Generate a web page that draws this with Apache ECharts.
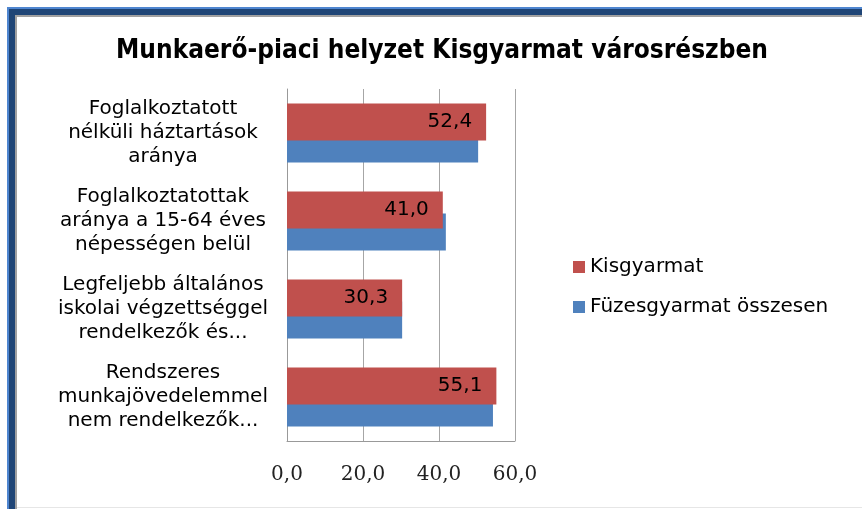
<!DOCTYPE html>
<html>
<head>
<meta charset="utf-8">
<script src="https://cdn.jsdelivr.net/npm/echarts@6/dist/echarts.min.js"></script>
<style>
  html, body { margin: 0; padding: 0; background: #fff; }
  #chart { width: 862px; height: 509px; }
</style>
</head>
<body>
<div id="chart"></div>
<script>
  // kategóriák (sortörésekkel, ahogy az eredeti ábrán)
  const categories = [
    'Foglalkoztatott\nnélküli háztartások\naránya',
    'Foglalkoztatottak\naránya a 15-64 éves\nnépességen belül',
    'Legfeljebb általános\niskolai végzettséggel\nrendelkezők és...',
    'Rendszeres\nmunkajövedelemmel\nnem rendelkezők...'
  ]
  const kisgyarmat = [52.4, 41.0, 30.3, 55.1]
  const fuzesgyarmat = [50.3, 41.8, 30.3, 54.2]
  const xTicks = [0, 20, 40, 60]

  const fmt = v => Number(v).toFixed(1).replace('.', ',')

  const myChart = echarts.init(document.getElementById('chart'))
  const option = {
    animation: false,
    title: {
      text: 'Munkaerő-piaci helyzet Kisgyarmat városrészben',
      left: 437,
      textAlign: 'center',
      top: 33,
      textStyle: {
        fontFamily: 'DejaVu Sans Condensed, DejaVu Sans',
        fontWeight: 'bold',
        fontSize: 26,
        color: '#000'
      }
    },
    legend: {
      orient: 'vertical',
      left: 573,
      top: 255,
      padding: 0,
      itemWidth: 12,
      itemHeight: 12,
      itemGap: 16,
      icon: 'rect',
      textStyle: {
        fontFamily: 'DejaVu Sans',
        fontSize: 20,
        lineHeight: 24,
        color: '#000'
      },
      data: ['Kisgyarmat', 'Füzesgyarmat összesen']
    },
    grid: { left: 287, right: 347, top: 89, bottom: 68 },
    xAxis: {
      type: 'value',
      min: xTicks[0],
      max: xTicks[xTicks.length - 1],
      interval: 20,
      axisLine: { show: true, lineStyle: { color: '#999' } },
      axisTick: { show: false },
      splitLine: { show: true, lineStyle: { color: '#a6a6a6', width: 1 } },
      axisLabel: {
        margin: 24,
        fontFamily: 'DejaVu Serif',
        fontSize: 20,
        color: '#222',
        formatter: v => fmt(v)
      }
    },
    yAxis: {
      type: 'category',
      inverse: true,
      data: categories,
      axisLine: { show: true, lineStyle: { color: '#999' } },
      axisTick: { show: false },
      axisLabel: {
        margin: 124,
        align: 'center',
        fontFamily: 'DejaVu Sans',
        fontSize: 20,
        lineHeight: 24,
        color: '#000'
      }
    },
    series: [
      {
        name: 'Kisgyarmat',
        type: 'bar',
        data: kisgyarmat,
        barWidth: 37,
        barGap: '-40%',
        itemStyle: { color: '#c0504d' },
        z: 3,
        label: {
          show: true,
          position: 'insideRight',
          distance: 14,
          fontFamily: 'DejaVu Sans',
          fontSize: 20,
          color: '#000',
          formatter: p => fmt(p.value)
        }
      },
      {
        name: 'Füzesgyarmat összesen',
        type: 'bar',
        data: fuzesgyarmat,
        barWidth: 37,
        barGap: '-40%',
        itemStyle: { color: '#4f81bd' },
        z: 2
      }
    ],
    graphic: [
      // Excel-szerű keret bal és felső oldalon
      { type: 'rect', shape: { x: 7, y: 7, width: 855, height: 2 }, style: { fill: '#4f86d0' }, silent: true },
      { type: 'rect', shape: { x: 7, y: 7, width: 2, height: 502 }, style: { fill: '#4f86d0' }, silent: true },
      { type: 'rect', shape: { x: 9, y: 9, width: 853, height: 6 }, style: { fill: '#1f4576' }, silent: true },
      { type: 'rect', shape: { x: 9, y: 9, width: 6, height: 500 }, style: { fill: '#1f4576' }, silent: true },
      { type: 'rect', shape: { x: 15, y: 15, width: 847, height: 2 }, style: { fill: '#a0a0a0' }, silent: true },
      { type: 'rect', shape: { x: 15, y: 15, width: 2, height: 494 }, style: { fill: '#a0a0a0' }, silent: true },
      { type: 'rect', shape: { x: 17, y: 507, width: 845, height: 1 }, style: { fill: '#e6e6e6' }, silent: true }
    ]
  }
  myChart.setOption(option)
</script>
</body>
</html>
